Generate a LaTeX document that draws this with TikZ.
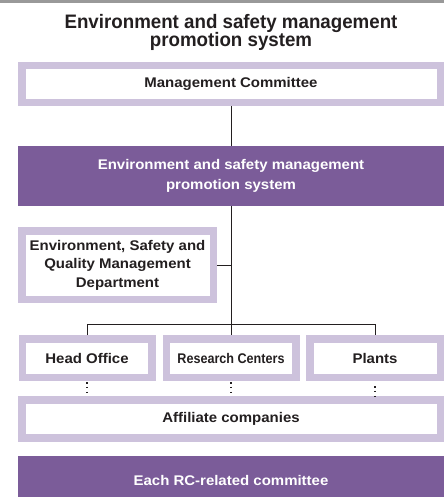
\documentclass[tikz,border=0pt]{standalone}
\usepackage{fontspec}
\setmainfont{Liberation Sans}[FakeStretch=1.07]
\newfontfamily\narrowfont{Liberation Sans}[FakeStretch=0.9]
\newfontfamily\titlefont{Liberation Sans}[FakeStretch=0.96]
\definecolor{framelilac}{HTML}{CDC2DC}
\definecolor{rcpurple}{HTML}{7B5C99}
\definecolor{inkgray}{HTML}{231F20}

\begin{document}
\begin{tikzpicture}[x=1pt, y=-1pt,
heading/.style={anchor=base, text=inkgray, font=\titlefont\bfseries\fontsize{19.5}{18}\selectfont},
box/.style={draw=framelilac, line width=7.5pt, fill=white, text=inkgray, inner sep=0pt, outer sep=3.75pt, align=center, font=\bfseries\fontsize{14}{19}\selectfont},
band/.style={fill=rcpurple, text=white, inner sep=0pt, minimum width=426pt, align=center, font=\bfseries\fontsize{14}{20}\selectfont},
link/.style={inkgray, line width=0.8pt},
dots/.style={inkgray, line width=1.6pt, dash pattern=on 1.5pt off 3.4pt}]
\useasboundingbox (0,0) rectangle (444,497);
\fill[black!40] (0,0) rectangle (444,3);

\node[heading] (title) at (231,29) {Environment and safety management};
\node[heading] (title2) at (231,47) {promotion system};

\node[box, minimum width=418.5pt, minimum height=37pt] (mc) at (231,84.25) {Management Committee};
\node[band, minimum height=60pt] (sys) at (231,176) {Environment and safety management\\promotion system};
\node[box, minimum width=191.5pt, minimum height=68.5pt, font=\bfseries\fontsize{14}{18.5}\selectfont] (esq) at (117.5,265) {Environment, Safety and\\Quality Management\\Department};

\node[box, minimum width=129.5pt, minimum height=38.5pt] (ho) at (87,358) {Head Office};
\node[box, minimum width=129.5pt, minimum height=38.5pt, font=\narrowfont\bfseries\fontsize{14}{19}\selectfont] (rc) at (231,358) {Research Centers};
\node[box, minimum width=130.5pt, minimum height=38.5pt] (pl) at (375,358) {Plants};

\node[box, minimum width=418.5pt, minimum height=38pt] (aff) at (231,418.75) {Affiliate companies};
\node[band, minimum height=49pt] (rcc) at (231,480.5) {Each RC-related committee};

\coordinate (fork) at (231,324);
\draw[link] (mc) -- (sys);
\draw[link] (sys.south) -- (rc.north);
\draw[link] (esq.east) -- (esq.east -| sys.south);
\draw[link] (ho.north) -- (ho.north |- fork) -- (pl.north |- fork) -- (pl.north);

%\draw[dots] (rc.south) -- (aff.north);
\draw[dots, shorten <=1pt] (ho.south) -- (ho.south |- aff.north);
\draw[dots, shorten <=1pt] (rc.south) -- (rc.south |- aff.north);
\draw[dots, shorten <=5pt] (pl.south) -- (pl.south |- aff.north);
\end{tikzpicture}
\end{document}
